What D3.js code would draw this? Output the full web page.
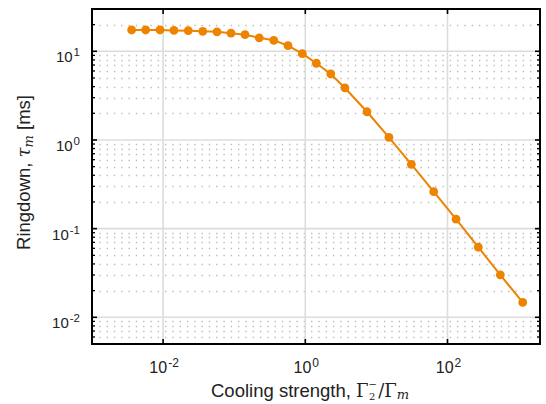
<!DOCTYPE html>
<html>
<head>
<meta charset="utf-8">
<script src="https://cdn.jsdelivr.net/npm/d3@7"></script>
<style>
  html, body { margin: 0; padding: 0; background: #fff; }
  svg { display: block; }
  text { font-family: "Liberation Sans", Arial, Helvetica, sans-serif; fill: #222; }
  .math { font-family: "DejaVu Serif", "Liberation Serif", serif; }
</style>
</head>
<body>
<svg id="chart" width="546" height="404"></svg>
<script>
// ---- data ----
const coolingStrength = [
  0.00361, 0.00569, 0.00904, 0.0142, 0.0226, 0.0361, 0.0573, 0.0902, 0.142, 0.225,
  0.360, 0.571, 0.908, 1.43, 2.28, 3.61, 7.38, 15.0, 31.0, 64.0,
  132, 271, 553, 1143
];
const ringdownMs = [
  17.4, 17.4, 17.4, 17.2, 17.1, 16.8, 16.6, 16.0, 15.4, 14.2,
  13.3, 11.6, 9.40, 7.33, 5.55, 3.86, 2.08, 1.07, 0.532, 0.261,
  0.128, 0.0617, 0.0301, 0.0147
];
const xMajorTicks = [1e-2, 1e0, 1e2];
const xTickExponents = ["-2", "0", "2"];
const yMajorTicks = [1e-2, 1e-1, 1e0, 1e1];
const yTickExponents = ["-2", "-1", "0", "1"];

// ---- layout ----
const W = 546, H = 404;
const L = 92, R = 540, T = 9, B = 344;
const orange = "#EE8300";

const svg = d3.select("#chart");
const x = d3.scaleLog().domain([1e-3, 2e3]).range([L, R]);
const y = d3.scaleLog().domain([0.005, 30]).range([B, T]);

// minor y values
const yMinor = [];
for (let e = -3; e <= 1; e++) {
  for (let k = 2; k <= 9; k++) {
    const v = k * Math.pow(10, e);
    if (v > 0.005 && v < 30) yMinor.push(v);
  }
}

const grid = svg.append("g");
// minor dotted horizontal grid
grid.selectAll("line.ymin").data(yMinor).join("line")
  .attr("x1", L).attr("x2", R)
  .attr("y1", d => Math.round(y(d)) + 0.5).attr("y2", d => Math.round(y(d)) + 0.5)
  .attr("stroke", "#bdbdbd").attr("stroke-width", 1.3)
  .attr("stroke-dasharray", "1.4,5.9");
// major grid
grid.selectAll("line.ymaj").data(yMajorTicks).join("line")
  .attr("x1", L).attr("x2", R)
  .attr("y1", d => y(d)).attr("y2", d => y(d))
  .attr("stroke", "#dcdcdc").attr("stroke-width", 1.6);
grid.selectAll("line.xmaj").data(xMajorTicks).join("line")
  .attr("y1", T).attr("y2", B)
  .attr("x1", d => x(d)).attr("x2", d => x(d))
  .attr("stroke", "#dcdcdc").attr("stroke-width", 1.6);

// data line + markers
const line = d3.line().x((d, i) => x(coolingStrength[i])).y(d => y(d));
svg.append("path").datum(ringdownMs)
  .attr("d", line).attr("fill", "none")
  .attr("stroke", orange).attr("stroke-width", 2);
svg.selectAll("circle.pt").data(ringdownMs).join("circle")
  .attr("cx", (d, i) => x(coolingStrength[i])).attr("cy", d => y(d))
  .attr("r", 4.4).attr("fill", orange);

// ticks (inside)
const ticks = svg.append("g").attr("stroke", "#000");
yMajorTicks.forEach(v => {
  ticks.append("line").attr("x1", L).attr("x2", L + 5).attr("y1", y(v)).attr("y2", y(v)).attr("stroke-width", 1.6);
  ticks.append("line").attr("x1", R).attr("x2", R - 5).attr("y1", y(v)).attr("y2", y(v)).attr("stroke-width", 1.6);
});
yMinor.forEach(v => {
  ticks.append("line").attr("x1", L).attr("x2", L + 3).attr("y1", y(v)).attr("y2", y(v)).attr("stroke-width", 1.3);
  ticks.append("line").attr("x1", R).attr("x2", R - 3).attr("y1", y(v)).attr("y2", y(v)).attr("stroke-width", 1.3);
});
xMajorTicks.forEach(v => {
  ticks.append("line").attr("y1", B).attr("y2", B - 5).attr("x1", x(v)).attr("x2", x(v)).attr("stroke-width", 1.6);
  ticks.append("line").attr("y1", T).attr("y2", T + 5).attr("x1", x(v)).attr("x2", x(v)).attr("stroke-width", 1.6);
});

// frame
svg.append("rect").attr("x", L).attr("y", T).attr("width", R - L).attr("height", B - T)
  .attr("fill", "none").attr("stroke", "#000").attr("stroke-width", 2);

// tick labels
function powLabel(g, exp, supSize) {
  g.append("tspan").text("10");
  g.append("tspan").attr("dx", 1).attr("dy", -6).attr("font-size", supSize).text(exp);
}
yMajorTicks.forEach((v, i) => {
  const t = svg.append("text").attr("x", 80).attr("y", y(v) + 11)
    .attr("text-anchor", "end").attr("font-size", 15);
  powLabel(t, yTickExponents[i], 11.5);
});
xMajorTicks.forEach((v, i) => {
  const t = svg.append("text").attr("x", x(v) + 1).attr("y", 373)
    .attr("text-anchor", "middle").attr("font-size", 16);
  powLabel(t, xTickExponents[i], 12);
});

// x-axis title
const xt = svg.append("text").attr("x", 211).attr("y", 397).attr("font-size", 18.5);
xt.append("tspan").text("Cooling strength, ");
xt.append("tspan").attr("class", "math").attr("font-size", 18).text("Γ");
xt.append("tspan").attr("class", "math").attr("font-size", 10).attr("dy", -9).text("−");
xt.append("tspan").attr("class", "math").attr("font-size", 10).attr("dx", -8).attr("dy", 12).text("2");
xt.append("tspan").attr("class", "math").attr("font-size", 18).attr("dy", -3).attr("dx", 3).text("/Γ");
xt.append("tspan").attr("class", "math").attr("font-size", 13).attr("font-style", "italic").attr("dy", 2).text("m");

// y-axis title
const yt = svg.append("text")
  .attr("transform", `translate(29.5, 172.5) rotate(-90)`)
  .attr("text-anchor", "middle").attr("font-size", 18.5);
yt.append("tspan").text("Ringdown, ");
yt.append("tspan").attr("class", "math").attr("font-style", "italic").attr("font-size", 18).text("τ");
yt.append("tspan").attr("class", "math").attr("font-style", "italic").attr("font-size", 13).attr("dy", 3).text("m");
yt.append("tspan").attr("dy", -3).text(" [ms]");
</script>
</body>
</html>
